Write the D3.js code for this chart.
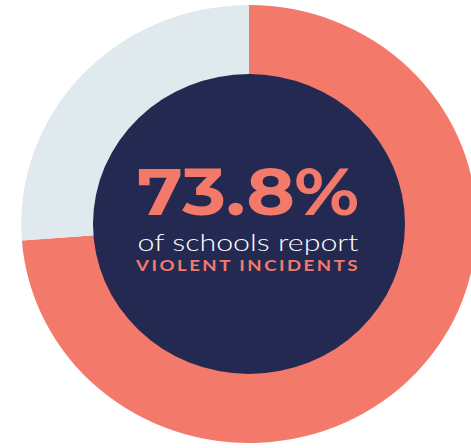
<!DOCTYPE html>
<html>
<head>
<meta charset="utf-8">
<script src="https://cdn.jsdelivr.net/npm/d3@7"></script>
<style>
  html, body { margin: 0; padding: 0; background: #fff; }
  svg { display: block; }
</style>
</head>
<body>
<svg class="chart"></svg>
<script>
var categories = ["Report violent incidents", "No violent incidents"];
var values = [73.8, 26.2];
var colors = ["#f37a6a", "#e0e9ed"];
var headline = "73.8%";
var subLines = ["of schools report", "VIOLENT INCIDENTS"];

(function () {
    'use strict';

    var width = 471, height = 448;
    var cx = 249, cy = 224,
        outerR = 219, innerR = 150;

    var chart = d3.select(".chart")
        .attr("width", width)
        .attr("height", height);

    // ring is slightly wider than tall in the original
    var ring = chart.append("g")
        .attr("transform", "translate(" + cx + "," + cy + ") scale(1.04,1)");

    var pie = d3.pie().sort(null).value(function (d) { return d; });
    var arc = d3.arc().innerRadius(innerR - 1).outerRadius(outerR);

    ring.selectAll("path")
        .data(pie(values))
        .enter().append("path")
        .attr("d", arc)
        .attr("fill", function (d, i) { return colors[i]; });

    ring.append("circle")
        .attr("r", innerR)
        .attr("fill", "#242952");

    // centre text
    var label = chart.append("g")
        .attr("transform", "translate(" + (cx - 1) + "," + cy + ")")
        .attr("text-anchor", "middle");

    label.append("text")
        .attr("y", -9)
        .attr("font-family", "Montserrat, Lato, 'Open Sans', sans-serif")
        .attr("font-weight", 700)
        .attr("font-size", 66)
        .attr("fill", colors[0])
        .attr("textLength", 222)
        .attr("lengthAdjust", "spacingAndGlyphs")
        .text(headline);

    label.append("text")
        .attr("y", 27)
        .attr("font-family", "Lato, 'Open Sans', sans-serif")
        .attr("font-weight", 300)
        .attr("font-size", 24)
        .attr("fill", "#ffffff")
        .attr("textLength", 221)
        .attr("lengthAdjust", "spacingAndGlyphs")
        .text(subLines[0]);

    label.append("text")
        .attr("y", 47)
        .attr("font-family", "Lato, 'Open Sans', sans-serif")
        .attr("font-weight", 700)
        .attr("font-size", 15)
        .attr("letter-spacing", 2)
        .attr("fill", colors[0])
        .attr("textLength", 224)
        .attr("lengthAdjust", "spacingAndGlyphs")
        .text(subLines[1]);
})();
</script>
</body>
</html>
